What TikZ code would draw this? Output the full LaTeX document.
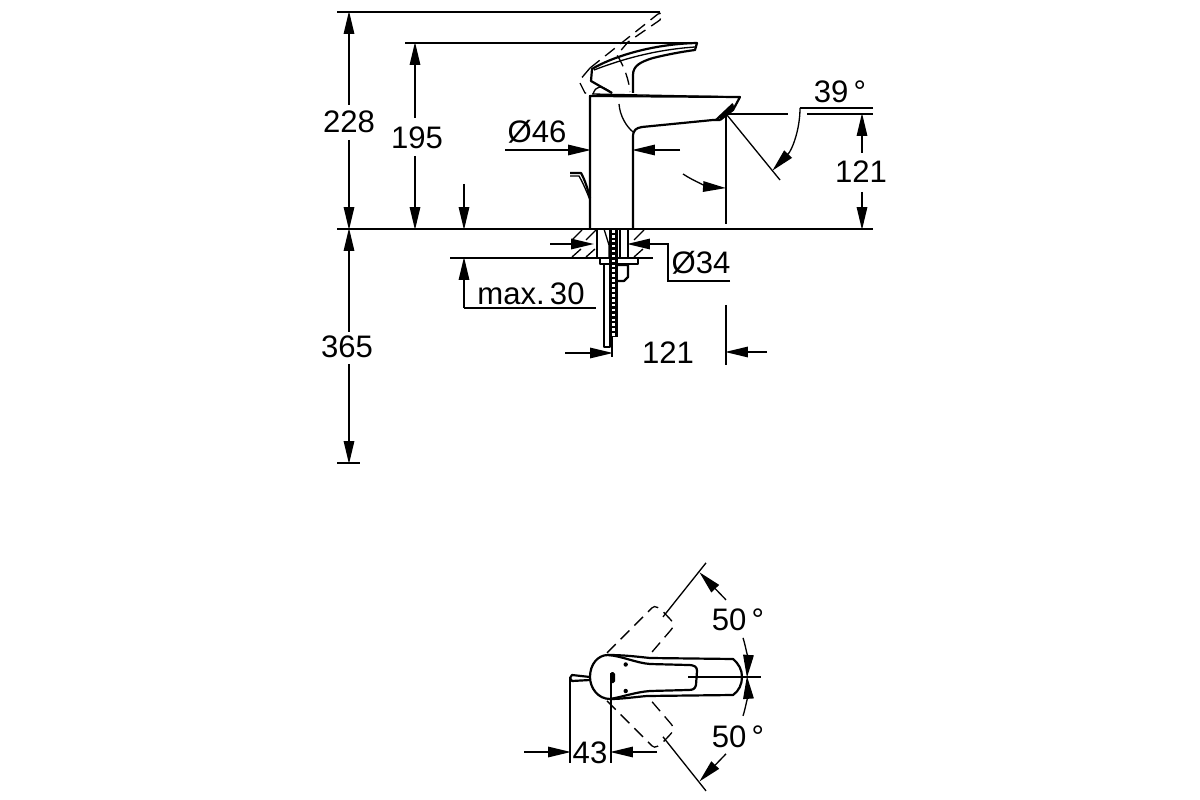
\documentclass[tikz,border=0pt]{standalone}
\usepackage{fontspec}
\setmainfont{Liberation Sans}
\usetikzlibrary{arrows.meta}
\begin{document}
\begin{tikzpicture}[x=0.02cm, y=-0.02cm,
    outline/.style={line width=1.25pt, line join=round},
    thin line/.style={line width=0.75pt},
    phantom/.style={line width=0.75pt, dash pattern=on 7pt off 4pt},
    dim/.style={line width=0.75pt, -{Triangle[length=13pt, width=6pt]}, shorten >=-0.5pt},
    dimtext/.style={font=\fontsize{17.7}{18}\selectfont, inner sep=0pt}]
    \useasboundingbox (0,0) rectangle (1200,800);
    % base lines and height dimensions
    \draw[thin line] (337,229) -- (873,229);
    \draw[thin line] (337,12) -- (660,12);
    \draw[thin line] (405,43) -- (697,43);
    \draw[thin line] (337,463) -- (360,463);
    \node[dimtext] (h228) at (349,122) {228};
    \node[dimtext] (h195) at (417,138) {195};
    \node[dimtext] (h365) at (347,347) {365};
    \draw[dim] (349,105) -- (349,12);
    \draw[dim] (349,140) -- (349,229);
    \draw[dim] (415,118) -- (415,43);
    \draw[dim] (415,156) -- (415,229);
    \draw[dim] (349,332) -- (349,229);
    \draw[dim] (349,364) -- (349,463);
    \draw[dim] (464,184) -- (464,229);
    % max. 30
    \node[dimtext] (max30) at (531,294) {max.\,30};
    \draw[thin line] (450,258) -- (653,258);
    \draw[thin line] (464,308) -- (596,308);
    \draw[dim] (464,308) -- (464,258);
    % body
    \draw[outline] (633,229) -- (633,137) .. controls (633,130) and (636,128) .. (642,127)
        -- (713,120) -- (720,120);
    \draw[outline] (590,229) -- (590,96) -- (740,97) -- (733,110) -- (720,120);
    \draw[thin line] (592,94) -- (740,97);
    \draw[outline] (716,120) -- (733,104);
    \draw[line width=2pt] (720,119) -- (734,106);
    \draw[thin line] (619,104) .. controls (620,116) and (626,126) .. (633,132);
    % handle
    \draw[outline] (612,93) -- (591,81) -- (592,69) .. controls (610,58) and (650,44) .. (697,43)
        -- (695,50) .. controls (680,52) and (665,55) .. (653,58)
        .. controls (640,62) and (633,66) .. (633,75) -- (633,93);
    \draw[thin line] (594,70) .. controls (615,62) and (650,50) .. (695,47);
    \draw[thin line] (593,94) .. controls (596,86) and (600,84) .. (612,93);
    % handle raised
    \draw[phantom] (590,68) -- (658,14) -- (662,13) -- (660,20) -- (628,42) -- (617,55)
        .. controls (624,66) and (629,80) .. (630,92);
    \draw[phantom] (590,68) -- (579,81) -- (585,93) -- (592,94);
    % pop-up lever
    \draw[outline] (570,173) -- (581,173) .. controls (585,180) and (588,190) .. (590,198);
    \draw[thin line] (570,176) -- (579,176) .. controls (583,183) and (586,190) .. (590,200);
    % diameter 46
    \node[dimtext] (d46) at (537,132) {Ø46};
    \draw[dim] (505,150) -- (590,150);
    \draw[dim] (680,150) -- (633,150);
    % spout dimensions
    \draw[thin line] (726,224) -- (726,114) -- (788,114);
    \draw[thin line] (727,115) -- (780,180);
    \draw[dim] (683,174) .. controls (695,182) and (710,187) .. (725,188);
    \draw[thin line] (807,114) -- (873,114);
    \draw[thin line] (873,108) -- (800,108);
    \draw[dim] (800,108) .. controls (800,130) and (792,150) .. (773,170);
    \node[dimtext] (a39) at (840,92) {39\,°};
    \node[dimtext] (s121) at (861,172) {121};
    \draw[dim] (862,153) -- (862,114);
    \draw[dim] (862,192) -- (862,229);
    % worktop section
    \foreach \hx in {572,586,634} {
        \draw[thin line] (\hx,240) -- (\hx+10,230);
        \draw[thin line] (\hx,257) -- (\hx+9,249);
    }
    % fixing and hose
    \fill (609,229) rectangle (618,337);
    \draw[line width=1.6pt, white, dash pattern=on 1.5pt off 1.3pt] (613.5,230) -- (613.5,336);
    \draw[outline] (597,229) rectangle (628,258);
    \draw[outline] (600,258) rectangle (638,264);
    \draw[outline] (604,264) -- (604,347) -- (610,347) -- (610,264);
    \draw[thin line] (604,229) -- (609,245) -- (609,258);
    \draw[thin line] (620,229) -- (620,258);
    \draw[outline] (618,265) -- (628,265) -- (628,277) -- (624,281) -- (618,281);
    % diameter 34
    \node[dimtext] (d34) at (701,263) {Ø34};
    \draw[thin line] (730,281) -- (668,281) -- (668,244) -- (650,244);
    \draw[dim] (550,244) -- (593,244);
    \draw[dim] (650,244) -- (628,244);
    % spout reach
    \node[dimtext] (r121) at (668,353) {121};
    \draw[thin line] (612,337) -- (612,357);
    \draw[thin line] (726,305) -- (726,365);
    \draw[dim] (565,353) -- (612,353);
    \draw[dim] (767,352) -- (726,352);
    % plan view
    \draw[outline] (610,699) .. controls (598,699) and (590,688) .. (590,677)
        .. controls (590,664) and (598,655) .. (608,655)
        .. controls (625,655) and (640,657) .. (650,658)
        -- (733,659) .. controls (739,664) and (742,670) .. (742,677)
        .. controls (742,684) and (739,691) .. (733,695)
        -- (647,696) .. controls (635,697) and (622,699) .. (610,699);
    \draw[outline] (608,655) .. controls (622,656) and (636,663) .. (650,664)
        -- (688,665) .. controls (695,665) and (697,667) .. (697,671)
        -- (696,685) .. controls (695,689) and (693,690) .. (688,690)
        -- (650,691) .. controls (636,692) and (622,697) .. (610,699);
    \fill (625.7,664.5) circle (2.2);
    \fill (625.7,691) circle (2.2);
    \fill[rounded corners=1pt] (610,672) rectangle (615,683);
    \draw[outline] (590,677) -- (572,675) -- (570,678) -- (572,681) -- (590,680);
    % plan view lever positions
    \foreach \sgn in {1,-1} {
        \begin{scope}[yshift=-13.54cm, yscale=\sgn]
            \draw[phantom] (607,-24) -- (652,-69)
                .. controls (655,-72) and (659,-70) .. (668,-60)
                .. controls (674,-54) and (675,-51) .. (671,-47) -- (647,-19);
            \draw[thin line] (706,-114) -- (663,-60);
            \draw[dim] (726,-77) -- (700,-104);
            \draw[dim] (743,-39) .. controls (746,-30) and (748,-15) .. (747,0);
        \end{scope}
    }
    \draw[thin line] (688,677) -- (761,677);
    \node[dimtext] (a50up) at (738,620) {50\,°};
    \node[dimtext] (a50dn) at (738,737) {50\,°};
    % plan view 43
    \node[dimtext] (p43) at (590,753) {43};
    \draw[thin line] (570,678) -- (570,763);
    \draw[thin line] (611,673) -- (611,763);
    \draw[dim] (524,752) -- (570,752);
    \draw[dim] (657,752) -- (611,752);
\end{tikzpicture}
\end{document}
